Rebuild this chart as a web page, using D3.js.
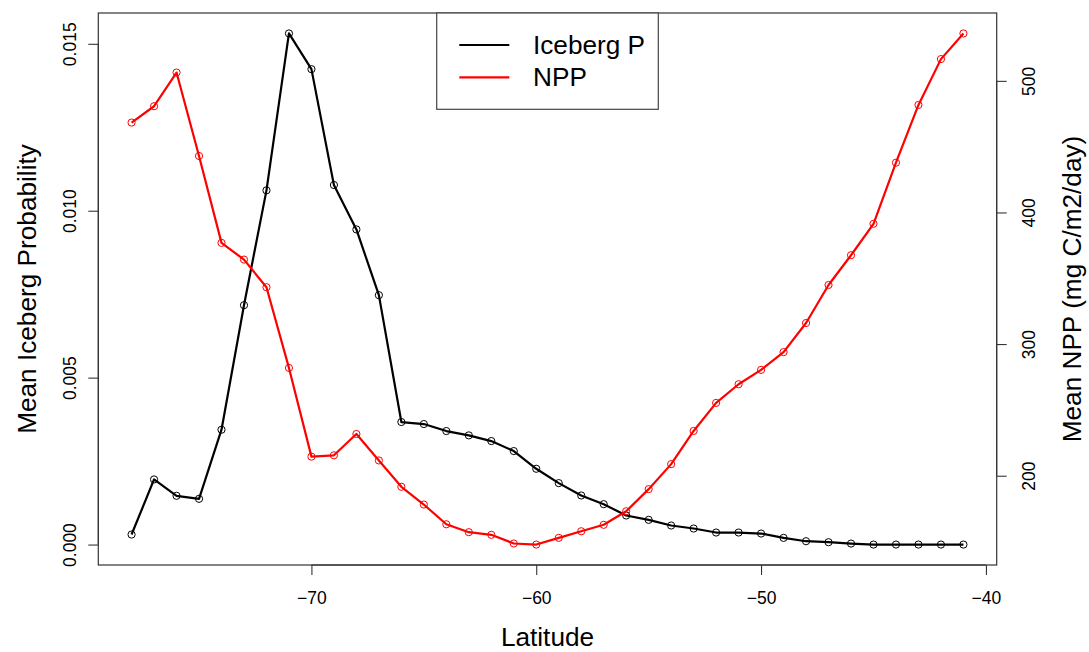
<!DOCTYPE html>
<html>
<head>
<meta charset="utf-8">
<script src="https://cdn.jsdelivr.net/npm/d3@7"></script>
<style>
body { margin: 0; background: #fff; }
text { font-family: "Liberation Sans", Arial, sans-serif; }
</style>
</head>
<body>
<svg id="chart" width="1089" height="652"></svg>
<script>
// latitude bins, iceberg probability and NPP per bin
var latitude = [-78, -77, -76, -75, -74, -73, -72, -71, -70, -69, -68, -67, -66, -65, -64, -63, -62, -61, -60,
    -59, -58, -57, -56, -55, -54, -53, -52, -51, -50, -49, -48, -47, -46, -45, -44, -43, -42, -41];
var icebergP = [0.0003, 0.00195, 0.00146, 0.00137, 0.00344, 0.00717, 0.01061, 0.01531, 0.01424, 0.01077,
    0.00944, 0.00747, 0.00367, 0.00361, 0.0034, 0.00327, 0.0031, 0.0028, 0.00227, 0.00184, 0.00147, 0.00121,
    0.00087, 0.00074, 0.00057, 0.00048, 0.00036, 0.00036, 0.00033, 0.0002, 0.0001, 0.00007, 0.00003,
    0, 0, 0, 0, 0];
var npp = [468.3, 480.7, 506.3, 442.9, 376.9, 364.2, 343.2, 281.9, 214.5, 215.5, 231.7, 211.6, 191.6, 178.1,
    163.1, 157.1, 155.1, 148.5, 147.7, 152.8, 157.8, 162.7, 173, 189.8, 208.8, 234, 255.3, 269.5, 280.4,
    293.9, 316, 344.9, 367.5, 391.4, 437.8, 481.7, 516.5, 536];
var xTicks = [-70, -60, -50, -40];
var leftTicks = [0, 0.005, 0.010, 0.015];
var rightTicks = [200, 300, 400, 500];
var seriesNames = ["Iceberg P", "NPP"];
var seriesColors = ["#000000", "#ff0000"];

(function(){
    var svg = d3.select("#chart");
    var left = 98.3, right = 996.7, top = 13, bottom = 565;

    // R style: pad the data range by 4% on each side
    function padded(arr) {
        var lo = d3.min(arr), hi = d3.max(arr), e = (hi - lo) * 0.04;
        return [lo - e, hi + e];
    }

    var x = d3.scaleLinear().domain(padded(latitude)).range([left, right]);
    var yL = d3.scaleLinear().domain(padded(icebergP)).range([bottom, top]);
    var yR = d3.scaleLinear().domain(padded(npp)).range([bottom, top]);

    var tickFont = "17.5px", titleFont = "26.2px";

    // bottom axis
    var gx = svg.append("g")
        .attr("transform", "translate(0," + bottom + ")")
        .call(d3.axisBottom(x).tickValues(xTicks).tickSize(10).tickSizeOuter(0).tickFormat(d3.format("d")));
    gx.select(".domain").remove();
    gx.selectAll("line").attr("stroke", "#222");
    gx.selectAll("text").attr("y", 39).attr("dy", 0)
        .style("font-size", tickFont).attr("fill", "#000").style("font-family", "Liberation Sans, Arial, sans-serif");
    gx.append("line")
        .attr("x1", x(xTicks[0])).attr("x2", x(xTicks[xTicks.length - 1]))
        .attr("stroke", "#222");

    // left axis
    var gl = svg.append("g")
        .attr("transform", "translate(" + left + ",0)")
        .call(d3.axisLeft(yL).tickValues(leftTicks).tickSize(10).tickSizeOuter(0).tickFormat(d3.format(".3f")));
    gl.select(".domain").remove();
    gl.selectAll("line").attr("stroke", "#222");
    gl.selectAll(".tick text")
        .attr("x", null).attr("dy", null)
        .attr("transform", "translate(-22,0) rotate(-90)")
        .attr("text-anchor", "middle")
        .style("font-size", tickFont).attr("fill", "#000").style("font-family", "Liberation Sans, Arial, sans-serif");
    gl.append("line")
        .attr("y1", yL(leftTicks[0])).attr("y2", yL(leftTicks[leftTicks.length - 1]))
        .attr("stroke", "#222");

    // right axis
    var gr = svg.append("g")
        .attr("transform", "translate(" + right + ",0)")
        .call(d3.axisRight(yR).tickValues(rightTicks).tickSize(10).tickSizeOuter(0).tickFormat(d3.format("d")));
    gr.select(".domain").remove();
    gr.selectAll("line").attr("stroke", "#222");
    gr.selectAll(".tick text")
        .attr("x", null).attr("dy", null)
        .attr("transform", "translate(38,0) rotate(-90)")
        .attr("text-anchor", "middle")
        .style("font-size", tickFont).attr("fill", "#000").style("font-family", "Liberation Sans, Arial, sans-serif");
    gr.append("line")
        .attr("y1", yR(rightTicks[0])).attr("y2", yR(rightTicks[rightTicks.length - 1]))
        .attr("stroke", "#222");

    // plot frame
    svg.append("rect")
        .attr("x", left).attr("y", top)
        .attr("width", right - left).attr("height", bottom - top)
        .attr("fill", "none").attr("stroke", "#333").attr("stroke-width", 1.2);

    // titles
    var mid = (top + bottom) / 2;
    svg.append("text").text("Latitude")
        .attr("x", (left + right) / 2).attr("y", 646)
        .attr("text-anchor", "middle").style("font-size", titleFont);
    svg.append("text").text("Mean Iceberg Probability")
        .attr("transform", "translate(35.5," + mid + ") rotate(-90)")
        .attr("text-anchor", "middle").style("font-size", titleFont);
    svg.append("text").text("Mean NPP (mg C/m2/day)")
        .attr("transform", "translate(1081," + mid + ") rotate(-90)")
        .attr("text-anchor", "middle").style("font-size", titleFont);

    // series
    var series = [
        {vals: icebergP, y: yL, color: seriesColors[0]},
        {vals: npp, y: yR, color: seriesColors[1]}
    ];
    series.forEach(function(s) {
        var line = d3.line()
            .x(function(d, i) { return x(latitude[i]); })
            .y(function(d) { return s.y(d); });
        svg.append("path")
            .datum(s.vals)
            .attr("d", line)
            .attr("fill", "none")
            .attr("stroke", s.color)
            .attr("stroke-width", 2.2)
            .attr("stroke-linejoin", "round");
        svg.selectAll(null)
            .data(s.vals)
            .enter()
            .append("circle")
            .attr("cx", function(d, i) { return x(latitude[i]); })
            .attr("cy", function(d) { return s.y(d); })
            .attr("r", 3.6)
            .attr("fill", "none")
            .attr("stroke", s.color)
            .attr("stroke-width", 1);
    });

    // legend
    var lg = svg.append("g");
    lg.append("rect")
        .attr("x", 436.7).attr("y", top)
        .attr("width", 658.3 - 436.7).attr("height", 109.3 - top)
        .attr("fill", "#fff").attr("stroke", "#444").attr("stroke-width", 1.2);
    for (var i = 0; i < seriesNames.length; i++) {
        var ly = 45 + i * 32.3;
        lg.append("line")
            .attr("x1", 459.3).attr("x2", 509.3)
            .attr("y1", ly).attr("y2", ly)
            .attr("stroke", seriesColors[i]).attr("stroke-width", 2.2);
        lg.append("text")
            .text(seriesNames[i])
            .attr("x", 533).attr("y", ly)
            .attr("dy", "0.35em")
            .style("font-size", titleFont);
    }
})();
</script>
</body>
</html>
